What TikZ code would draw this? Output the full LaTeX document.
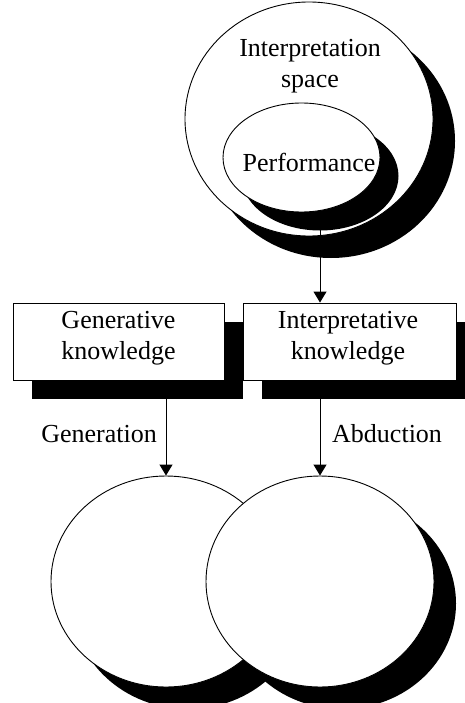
\documentclass[tikz,border=0pt]{standalone}
\usepackage{fontspec}
\setmainfont{Liberation Serif}
\usetikzlibrary{shapes.geometric,arrows.meta}
\begin{document}
\begin{tikzpicture}[x=1pt,y=-1pt,
  lw/.style={line width=0.9pt},
  whiteell/.style={ellipse,draw,lw,fill=white,inner sep=0pt},
  shadowell/.style={ellipse,fill=black,inner sep=0pt},
  whitebox/.style={rectangle,draw,lw,fill=white,inner sep=0pt},
  shadowbox/.style={rectangle,fill=black,inner sep=0pt},
  lbl/.style={font=\fontsize{26}{31}\selectfont,align=center,inner sep=0pt},
  arr/.style={line width=1pt,-{Triangle[width=13pt,length=11pt]}}]
\useasboundingbox (0,0) rectangle (465,703);
% top ellipses
\node[shadowell,minimum width=248pt,minimum height=234pt] (outs) at (331,141) {};
\node[whiteell,minimum width=248pt,minimum height=234pt] (out) at (309,119) {};
\node[shadowell,minimum width=157pt,minimum height=109pt] (ins) at (320,176) {};
\node[whiteell,minimum width=157pt,minimum height=109pt] (in) at (301.5,157.5) {};
\node[lbl] (tis) at (310,66) {Interpretation\\space};
\node[lbl] (tperf) at (309,162) {Performance};
% boxes
\node[shadowbox,minimum width=211pt,minimum height=77pt] (gks) at (137.5,360.5) {};
\node[whitebox,minimum width=211pt,minimum height=77pt] (gk) at (118.5,341.5) {};
\node[shadowbox,minimum width=213pt,minimum height=77pt] (iks) at (368.5,360.5) {};
\node[whitebox,minimum width=213pt,minimum height=77pt] (ik) at (349.5,341.5) {};
\node[lbl] (tgk) at (118.5,338) {Generative\\knowledge};
\node[lbl] (tik) at (348,338) {Interpretative\\knowledge};
% lower circles
\node[shadowell,minimum width=230pt,minimum height=211pt] (lcs) at (188,603.5) {};
\node[whiteell,minimum width=230pt,minimum height=211pt] (lc) at (166,581.5) {};
\node[shadowell,minimum width=228pt,minimum height=211pt] (rcs) at (342,603.5) {};
\node[whiteell,minimum width=228pt,minimum height=211pt] (rc) at (320,581.5) {};
% arrows
\coordinate (top) at (320,228);
\draw[arr] (top) -- (top |- ik.north);
\draw[arr] (gk.south -| lc.north) -- (lc.north);
\draw[arr] (ik.south -| rc.north) -- (rc.north);
\node[lbl,anchor=base east] (tgen) at (157,442) {Generation};
\node[lbl,anchor=base west] (tabd) at (332,442) {Abduction};
\end{tikzpicture}
\end{document}
